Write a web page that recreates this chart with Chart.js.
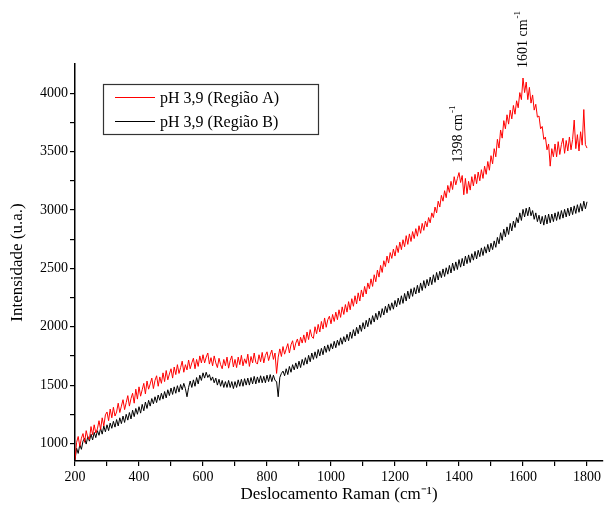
<!DOCTYPE html>
<html>
<head>
<meta charset="utf-8">
<script src="https://cdn.jsdelivr.net/npm/chart.js@4.4.1/dist/chart.umd.min.js"></script>
<style>
html, body { margin: 0; padding: 0; background: #fff; }
</style>
</head>
<body>
<canvas id="raman" width="606" height="512"></canvas>
<script>
// deslocamento Raman (cm-1)
var ramanShift = [
  200,205,210,215,220,225,230,235,240,245,250,255,260,265,270,275,280,285,290,295,
  300,305,310,315,320,325,330,335,340,345,350,355,360,365,370,375,380,385,390,395,
  400,405,410,415,420,425,430,435,440,445,450,455,460,465,470,475,480,485,490,495,
  500,505,510,515,520,525,530,535,540,545,550,555,560,565,570,575,580,585,590,595,
  600,605,610,615,620,625,630,635,640,645,650,655,660,665,670,675,680,685,690,695,
  700,705,710,715,720,725,730,735,740,745,750,755,760,765,770,775,780,785,790,795,
  800,805,810,815,820,825,830,835,840,845,850,855,860,865,870,875,880,885,890,895,
  900,905,910,915,920,925,930,935,940,945,950,955,960,965,970,975,980,985,990,995,
  1000,1005,1010,1015,1020,1025,1030,1035,1040,1045,1050,1055,1060,1065,1070,1075,1080,1085,1090,1095,
  1100,1105,1110,1115,1120,1125,1130,1135,1140,1145,1150,1155,1160,1165,1170,1175,1180,1185,1190,1195,
  1200,1205,1210,1215,1220,1225,1230,1235,1240,1245,1250,1255,1260,1265,1270,1275,1280,1285,1290,1295,
  1300,1305,1310,1315,1320,1325,1330,1335,1340,1345,1350,1355,1360,1365,1370,1375,1380,1385,1390,1395,
  1400,1405,1410,1415,1420,1425,1430,1435,1440,1445,1450,1455,1460,1465,1470,1475,1480,1485,1490,1495,
  1500,1505,1510,1515,1520,1525,1530,1535,1540,1545,1550,1555,1560,1565,1570,1575,1580,1585,1590,1595,
  1600,1605,1610,1615,1620,1625,1630,1635,1640,1645,1650,1655,1660,1665,1670,1675,1680,1685,1690,1695,
  1700,1705,1710,1715,1720,1725,1730,1735,1740,1745,1750,1755,1760,1765,1770,1775,1780,1785,1790,1795,
  1800
];

// pH 3,9 - Regiao A
var regiaoA = [
  860,1010,1060,975,1045,1085,1010,1110,1050,1035,1145,1075,1160,1090,1125,1195,1120,1220,1150,1245,
  1270,1195,1295,1220,1310,1235,1270,1345,1265,1320,1375,1290,1350,1410,1320,1385,1430,1345,1465,1380,
  1485,1405,1460,1515,1425,1535,1465,1510,1560,1470,1540,1580,1490,1570,1515,1605,1530,1625,1545,1595,
  1640,1560,1655,1590,1675,1600,1650,1705,1610,1675,1630,1715,1640,1690,1730,1640,1720,1660,1750,1690,
  1760,1690,1740,1775,1680,1735,1665,1750,1690,1650,1730,1675,1640,1720,1665,1740,1645,1710,1750,1655,
  1720,1650,1740,1675,1755,1665,1725,1685,1765,1660,1745,1690,1775,1695,1680,1760,1700,1780,1690,1755,
  1785,1710,1760,1800,1720,1775,1600,1740,1810,1745,1830,1765,1810,1855,1775,1845,1880,1800,1860,1895,
  1835,1910,1860,1930,1865,1955,1890,1975,1915,1900,2000,1940,2020,1955,2045,1980,2075,1995,2060,2090,
  2025,2105,2045,2125,2060,2145,2080,2170,2105,2190,2125,2215,2145,2240,2175,2265,2195,2290,2220,2315,
  2255,2345,2280,2375,2325,2410,2345,2445,2385,2485,2425,2525,2465,2565,2515,2605,2545,2635,2585,2665,
  2605,2695,2635,2725,2660,2745,2685,2780,2705,2795,2730,2815,2755,2840,2775,2865,2800,2885,2825,2905,
  2855,2935,2890,2975,2935,3025,2975,3075,3025,3125,3075,3165,3105,3210,3150,3245,3175,3285,3215,3270,
  3320,3235,3295,3130,3270,3140,3245,3170,3285,3205,3305,3225,3325,3250,3345,3270,3375,3305,3415,3340,
  3465,3395,3525,3455,3605,3530,3685,3615,3765,3695,3815,3735,3855,3780,3895,3820,3935,3875,4005,3945,
  4130,4005,4095,3945,4050,3915,3985,3855,3905,3795,3805,3695,3715,3605,3625,3515,3565,3375,3525,3455,
  3565,3455,3585,3475,3560,3615,3485,3595,3505,3625,3515,3605,3770,3525,3645,3505,3670,3555,3860,3560,
  3530
];

// pH 3,9 - Regiao B
var regiaoB = [
  860,960,915,990,950,1020,1045,995,1060,1020,1080,1030,1095,1050,1110,1070,1130,1080,1150,1100,
  1160,1110,1175,1130,1190,1140,1205,1150,1220,1170,1235,1180,1250,1200,1265,1210,1285,1230,1300,1250,
  1315,1260,1335,1280,1355,1300,1370,1320,1385,1340,1400,1350,1415,1370,1430,1380,1445,1390,1460,1410,
  1475,1420,1485,1430,1495,1440,1505,1460,1515,1470,1400,1480,1535,1480,1545,1490,1565,1510,1585,1540,
  1605,1560,1610,1565,1590,1540,1570,1520,1560,1500,1550,1490,1540,1480,1530,1480,1540,1480,1530,1470,
  1530,1480,1545,1490,1550,1490,1555,1500,1560,1500,1565,1510,1575,1510,1570,1520,1580,1520,1575,1520,
  1585,1530,1590,1530,1585,1540,1530,1400,1565,1600,1620,1580,1640,1590,1660,1610,1675,1630,1690,1640,
  1705,1650,1720,1670,1735,1680,1755,1700,1775,1720,1785,1730,1805,1750,1815,1760,1835,1780,1845,1790,
  1855,1810,1875,1820,1885,1840,1905,1850,1915,1870,1935,1880,1955,1900,1975,1920,1995,1940,2015,1960,
  2035,1980,2055,2000,2075,2020,2095,2040,2115,2060,2135,2080,2155,2100,2175,2120,2195,2140,2205,2150,
  2225,2170,2245,2190,2265,2200,2285,2220,2305,2240,2325,2260,2335,2280,2355,2290,2375,2310,2395,2330,
  2405,2350,2425,2360,2445,2380,2465,2400,2475,2420,2495,2430,2505,2450,2525,2460,2545,2480,2555,2490,
  2575,2510,2585,2520,2605,2540,2615,2550,2625,2570,2645,2580,2655,2600,2675,2610,2685,2630,2705,2640,
  2715,2660,2735,2680,2765,2710,2805,2740,2835,2770,2855,2790,2885,2820,2905,2850,2935,2890,2975,2910,
  3005,2940,3015,2950,3025,2950,2995,2920,2975,2900,2955,2880,2945,2870,2955,2880,2965,2890,2965,2900,
  2975,2910,2985,2920,2995,2930,3005,2940,3015,2950,3025,2960,3035,2970,3045,2980,3055,2990,3075,3010,
  3070
];

var xTicks = [200,300,400,500,600,700,800,900,1000,1100,1200,1300,1400,1500,1600,1700,1800];
var yTicks = [1000,1250,1500,1750,2000,2250,2500,2750,3000,3250,3500,3750,4000];
var picos = [1398, 1601];

var serif = "'Liberation Serif', 'Times New Roman', serif";

function pontos(ys) {
  return ramanShift.map(function (x, i) { return { x: x, y: ys[i] }; });
}

// caixa de legenda com borda, dentro da area do grafico
var legendaCaixa = {
  id: 'legendaCaixa',
  afterDraw: function (chart) {
    var ctx = chart.ctx, area = chart.chartArea;
    var x0 = area.left + 28, y0 = area.top + 20;
    ctx.save();
    ctx.strokeStyle = '#333';
    ctx.lineWidth = 1.2;
    ctx.strokeRect(Math.round(x0) + 0.5, Math.round(y0) + 0.5, 215, 50);
    chart.data.datasets.forEach(function (ds, i) {
      var y = Math.round(y0 + 13 + i * 24) + 0.5;
      ctx.strokeStyle = ds.borderColor;
      ctx.lineWidth = 1;
      ctx.beginPath();
      ctx.moveTo(x0 + 12, y);
      ctx.lineTo(x0 + 52, y);
      ctx.stroke();
      ctx.fillStyle = '#000';
      ctx.font = '16px ' + serif;
      ctx.textBaseline = 'middle';
      ctx.textAlign = 'left';
      ctx.fillText(ds.label, x0 + 57, y + 1);
    });
    ctx.restore();
  }
};

// rotulos verticais sobre os picos da Regiao A
var rotulosPicos = {
  id: 'rotulosPicos',
  afterDraw: function (chart) {
    var ctx = chart.ctx, xs = chart.scales.x, ys = chart.scales.y;
    picos.forEach(function (p) {
      var topo = 0;
      ramanShift.forEach(function (x, i) {
        if (Math.abs(x - p) <= 5 && regiaoA[i] > topo) topo = regiaoA[i];
      });
      var px = xs.getPixelForValue(p);
      var py = ys.getPixelForValue(topo) - 10;
      var txt = p + ' cm';
      ctx.save();
      ctx.translate(px, py);
      ctx.rotate(-Math.PI / 2);
      ctx.fillStyle = '#000';
      ctx.textAlign = 'left';
      ctx.textBaseline = 'middle';
      ctx.font = '14px ' + serif;
      ctx.fillText(txt, 0, 0);
      var w = ctx.measureText(txt).width;
      ctx.font = '9px ' + serif;
      ctx.fillText('-1', w + 1, -6);
      ctx.restore();
    });
  }
};

new Chart(document.getElementById('raman').getContext('2d'), {
  type: 'line',
  data: {
    datasets: [
      {
        label: 'pH 3,9 (Região A)',
        data: pontos(regiaoA),
        borderColor: '#ff0000',
        borderWidth: 1,
        pointRadius: 0,
        tension: 0
      },
      {
        label: 'pH 3,9 (Região B)',
        data: pontos(regiaoB),
        borderColor: '#000000',
        borderWidth: 1,
        pointRadius: 0,
        tension: 0
      }
    ]
  },
  options: {
    responsive: false,
    animation: false,
    layout: { padding: { top: 64, right: 3, left: 0, bottom: 0 } },
    plugins: {
      legend: { display: false },
      tooltip: { enabled: false }
    },
    scales: {
      x: {
        type: 'linear',
        min: 200,
        max: 1850,
        afterBuildTicks: function (scale) {
          scale.ticks = xTicks.map(function (v) { return { value: v }; });
        },
        afterFit: function (scale) { scale.height = 51; },
        ticks: {
          autoSkip: false,
          maxRotation: 0,
          padding: 3,
          color: '#000',
          font: { family: serif, size: 14 },
          callback: function (v) { return v % 200 === 0 ? v : ''; }
        },
        grid: { drawOnChartArea: false, tickLength: 5, color: '#000', lineWidth: 1.2 },
        border: { color: '#000', width: 1.5 },
        title: {
          display: true,
          text: 'Deslocamento Raman (cm⁻¹)',
          color: '#000',
          font: { family: serif, size: 17 },
          padding: { top: 0, bottom: 7 }
        }
      },
      y: {
        type: 'linear',
        min: 850,
        max: 4250,
        afterBuildTicks: function (scale) {
          scale.ticks = yTicks.map(function (v) { return { value: v }; });
        },
        afterFit: function (scale) { scale.width = 75; },
        ticks: {
          autoSkip: false,
          padding: 2,
          color: '#000',
          font: { family: serif, size: 14 },
          callback: function (v) { return v % 500 === 0 ? v : ''; }
        },
        grid: { drawOnChartArea: false, tickLength: 5, color: '#000', lineWidth: 1.2 },
        border: { color: '#000', width: 1.5 },
        title: {
          display: true,
          text: 'Intensidade (u.a.)',
          color: '#000',
          font: { family: serif, size: 17 },
          padding: { top: 7, bottom: 0 }
        }
      }
    }
  },
  plugins: [legendaCaixa, rotulosPicos]
});
</script>
</body>
</html>
